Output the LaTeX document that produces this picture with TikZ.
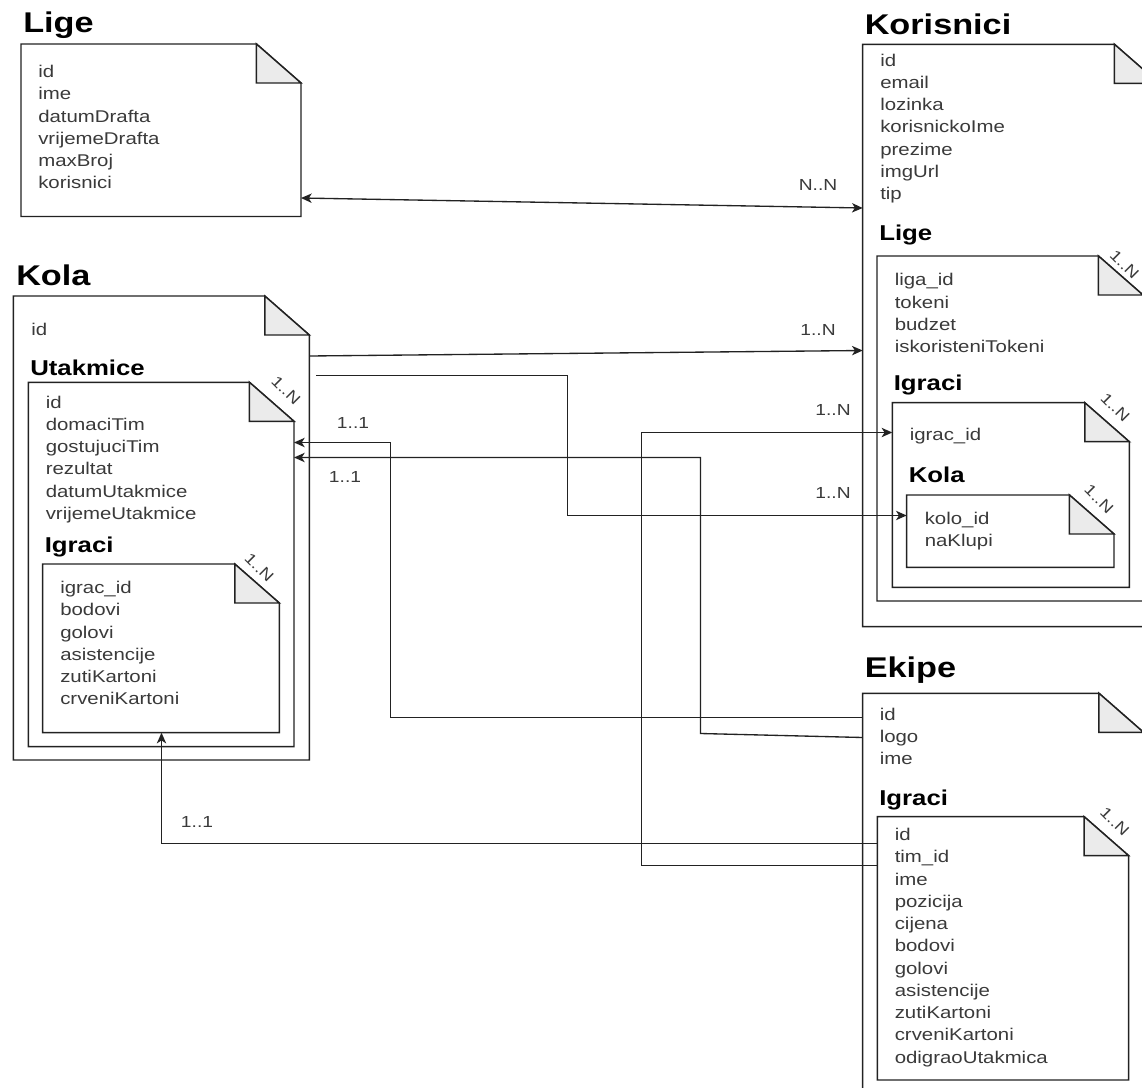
\documentclass[tikz,border=0pt]{standalone}
\usepackage{fontspec}
\setmainfont{Liberation Sans}[FakeStretch=1.2]
\usetikzlibrary{fit,arrows.meta}
\definecolor{txt}{HTML}{3A3A3A}
\definecolor{ln}{HTML}{222222}
\definecolor{foldc}{HTML}{EBEBEB}
\tikzset{
 area/.style={inner sep=0pt, outer sep=0pt, draw=none},
 boxline/.style={draw=ln, line width=1.1pt, fill=white, line join=miter},
 foldfill/.style={draw=ln, line width=1.1pt, fill=foldc, line join=miter},
 lst/.style={anchor=north west, align=left, inner sep=0pt, text=txt, font=\fontsize{12.75pt}{16.7pt}\selectfont, execute at begin node={\rule{0pt}{12pt}}},
 ttl/.style={anchor=base west, inner sep=0pt, text=black, font=\bfseries\fontsize{21.4pt}{24pt}\selectfont},
 sub/.style={anchor=base west, inner sep=0pt, text=black, font=\bfseries\fontsize{16.1pt}{19pt}\selectfont},
 card/.style={inner sep=0pt, text=txt, font=\fontsize{12pt}{14pt}\selectfont},
 foldlbl/.style={card, rotate=-45, font=\fontsize{11.5pt}{13pt}\selectfont},
 conn/.style={draw=ln, line width=1pt},
 tipA/.tip={Stealth[length=8pt,width=7pt,inset=2.2pt]},
 arr/.style={-tipA},
 biarr/.style={tipA-tipA},
}
\newcommand\notebox[1]{%
 \path[boxline] (#1.north west) -- ([xshift=-33.4pt]#1.north east) -- ([yshift=-29.25pt]#1.north east) -- (#1.south east) -- (#1.south west) -- cycle;
 \path[foldfill] ([xshift=-33.4pt]#1.north east) -- ([xshift=-33.4pt,yshift=-29.25pt]#1.north east) -- ([yshift=-29.25pt]#1.north east) -- cycle;}
\begin{document}
\begin{tikzpicture}[x=0.75pt,y=-0.75pt]
\useasboundingbox (0,0) rectangle (1142,1088);
\clip (0,0) rectangle (1142,1088);
\fill[white] (0,0) rectangle (1142,1088);

% areas of the note boxes
\node[area, fit={(21,44) (301,216.5)}] (lige) {};
\node[area, fit={(862.7,44.3) (1159,626.7)}] (kor) {};
\node[area, fit={(877,256) (1143,601)}] (kLige) {};
\node[area, fit={(892.3,402.7) (1129.3,587.3)}] (kIgr) {};
\node[area, fit={(906.7,495) (1114,567.3)}] (kKola) {};
\node[area, fit={(13.3,296) (309.3,760)}] (kola) {};
\node[area, fit={(28.3,382.3) (294,746.7)}] (utak) {};
\node[area, fit={(42.7,564) (279.3,732.7)}] (kolaIgr) {};
\node[area, fit={(862.7,693.3) (1143.5,1120)}] (ekipe) {};
\node[area, fit={(877.3,816.7) (1128.7,1080)}] (eIgr) {};

\notebox{lige}
\notebox{kor}
\notebox{kLige}
\notebox{kIgr}
\notebox{kKola}
\notebox{kola}
\notebox{utak}
\notebox{kolaIgr}
\notebox{ekipe}
\notebox{eIgr}

% titles
\node[ttl] (tLige) at (23,33) {Lige};
\node[ttl] (tKor) at (864.5,35) {Korisnici};
\node[ttl] (tKola) at (16,285) {Kola};
\node[ttl] (tEkipe) at (864.5,677) {Ekipe};

% subtitles
\node[sub] (sKLige) at (879,240) {Lige};
\node[sub] (sKIgr) at (893.5,390) {Igraci};
\node[sub] (sKKola) at (908.5,482) {Kola};
\node[sub] (sUtak) at (30,375) {Utakmice};
\node[sub] (sKolaIgr) at (44.5,552) {Igraci};
\node[sub] (sEIgr) at (879,805) {Igraci};

% field lists (positions: first baseline - 16)
\node[lst] (fLige) at (38,65) {id\\ime\\datumDrafta\\vrijemeDrafta\\maxBroj\\korisnici};
\node[lst] (fKor) at (880,53.5) {id\\email\\lozinka\\korisnickoIme\\prezime\\imgUrl\\tip};
\node[lst] (fKLige) at (894.5,273.3) {liga\_id\\tokeni\\budzet\\iskoristeniTokeni};
\node[lst] (fKIgr) at (909.5,424.5) {igrac\_id};
\node[lst] (fKKola) at (924.5,511.5) {kolo\_id\\naKlupi};
\node[lst] (fKola) at (31,319) {id};
\node[lst] (fUtak) at (45.5,395.5) {id\\domaciTim\\gostujuciTim\\rezultat\\datumUtakmice\\vrijemeUtakmice};
\node[lst] (fKolaIgr) at (60,581) {igrac\_id\\bodovi\\golovi\\asistencije\\zutiKartoni\\crveniKartoni};
\node[lst] (fEkipe) at (879.5,707.5) {id\\logo\\ime};
\node[lst] (fEIgr) at (894.5,828) {id\\tim\_id\\ime\\pozicija\\cijena\\bodovi\\golovi\\asistencije\\zutiKartoni\\crveniKartoni\\odigraoUtakmica};

% fold labels
\node[foldlbl] (flKLige) at ([shift={(-18.5,8.5)}]kLige.north east) {1..N};
\node[foldlbl] (flKIgr) at ([shift={(-14,4.5)}]kIgr.north east) {1..N};
\node[foldlbl] (flKKola) at ([shift={(-15,4)}]kKola.north east) {1..N};
\node[foldlbl] (flUtak) at ([shift={(-8,8)}]utak.north east) {1..N};
\node[foldlbl] (flKolaIgr) at ([shift={(-20,3.5)}]kolaIgr.north east) {1..N};
\node[foldlbl] (flEIgr) at ([shift={(-14,4.8)}]eIgr.north east) {1..N};

% connectors
\coordinate (c3s) at (316,375.5);
\draw[conn,biarr] (lige.east |- 0,198) -- (kor.west |- 0,208);
\draw[conn,arr] (kola.east |- 0,356) -- (kor.west |- 0,350.5);
\draw[conn,arr] (c3s) -- (567.5,375.5) -- (567.5,515.5) -- (kKola.west |- 0,515.5);
\draw[conn,arr] (eIgr.west |- 0,865.5) -- (641.5,865.5) -- (641.5,432.5) -- (kIgr.west |- 0,432.5);
\draw[conn,arr] (ekipe.west |- 0,717.5) -- (390.5,717.5) -- (390.5,442.5) -- (utak.east |- 0,442.5);
\draw[conn,arr] (ekipe.west |- 0,737.5) -- (700.5,733.5) -- (700.5,457.5) -- (utak.east |- 0,457.5);
\draw[conn,arr] (eIgr.west |- 0,843.5) -- (161.5,843.5) -- (kolaIgr.south -| 161.5,0);

% connector labels
\node[card] (lNN) at (818,185) {N..N};
\node[card] (l1N) at (818,330) {1..N};
\node[card] (l1Nb) at (833,410) {1..N};
\node[card] (l1Nc) at (833,493) {1..N};
\node[card] (l11a) at (353,423) {1..1};
\node[card] (l11b) at (345,477) {1..1};
\node[card] (l11c) at (197,822) {1..1};
\end{tikzpicture}
\end{document}
